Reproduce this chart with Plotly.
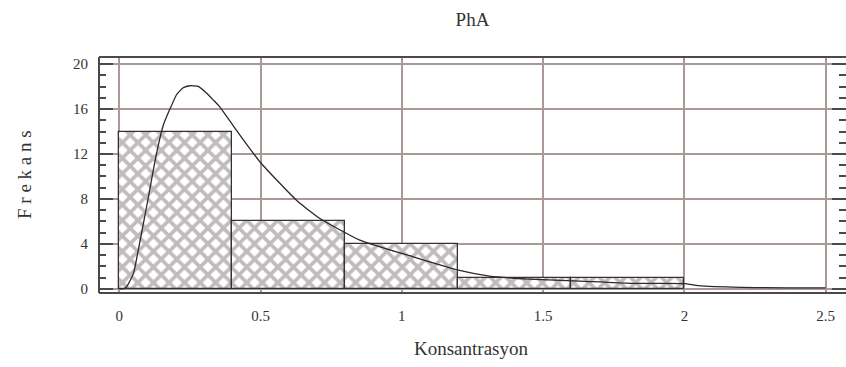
import plotly.graph_objects as go

# Histogram bins (Konsantrasyon) and frequencies
bin_left = [0.0, 0.4, 0.8, 1.2, 1.6]
bin_width = 0.4
freq = [14, 6, 4, 1, 1]

# Fitted density curve
curve_x = [0.0, 0.015, 0.026, 0.05, 0.067, 0.085, 0.103, 0.12, 0.138, 0.156, 0.179, 0.203,
           0.226, 0.25, 0.279, 0.309, 0.333, 0.356, 0.415, 0.498, 0.627, 0.71, 0.851, 1.04,
           1.2, 1.31, 1.45, 1.63, 1.81, 2.0, 2.05, 2.2, 2.5]
curve_y = [0.0, 0.0, 0.18, 1.37, 3.44, 5.8, 8.18, 10.55, 12.8, 14.6, 16.0, 17.3,
           17.9, 18.08, 18.02, 17.42, 16.8, 16.18, 14.1, 11.29, 7.88, 6.26, 4.33, 2.84,
           1.66, 1.13, 0.86, 0.68, 0.48, 0.46, 0.27, 0.12, 0.08]

x_ticks = [0, 0.5, 1, 1.5, 2, 2.5]
x_tick_labels = ["0", "0.5", "1", "1.5", "2", "2.5"]
y_ticks = [0, 4, 8, 12, 16, 20]
y_tick_labels = ["0", "4", "8", "12", "16", "20"]

title_text = "PhA"
x_title = "Konsantrasyon"
y_title = "F r e k a n s"

FONT = "Liberation Serif"
GRID = "#a99a98"
FRAME = "#4a4a4a"
HATCH = "#85777a"

fig = go.Figure()
fig.add_trace(go.Bar(
    x=[b + bin_width / 2 for b in bin_left],
    y=freq,
    width=[bin_width] * len(freq),
    marker=dict(
        color="white",
        line=dict(color="#333333", width=1.3),
        pattern=dict(shape="x", fgcolor=HATCH, bgcolor="white", size=11,
                     solidity=0.55, fillmode="overlay"),
    ),
    showlegend=False,
))
fig.add_trace(go.Scatter(
    x=curve_x, y=curve_y, mode="lines",
    line=dict(color="#2a2a2a", width=1.3, shape="spline", smoothing=0.5),
    showlegend=False,
))

fig.update_layout(
    width=846, height=367,
    margin=dict(l=99, r=0, t=57, b=74),
    paper_bgcolor="white", plot_bgcolor="white",
    font=dict(family=FONT, color="#333333"),
    bargap=0,
    title=dict(text=title_text, x=0.5585, xanchor="center", y=1 - 19 / 367,
               yanchor="middle", font=dict(size=19, family=FONT, color="#333333")),
)
fig.update_xaxes(
    range=[-0.072, 2.572],
    tickmode="array", tickvals=x_ticks, ticktext=x_tick_labels,
    showgrid=True, gridcolor=GRID, gridwidth=1.5,
    zeroline=False, showline=False, ticks="",
    ticklabelstandoff=12,
    tickfont=dict(size=15, family=FONT, color="#333333"),
)
fig.update_yaxes(
    range=[-0.38, 20.64],
    tickmode="array", tickvals=y_ticks, ticktext=y_tick_labels,
    showgrid=True, gridcolor=GRID, gridwidth=1.5,
    zeroline=False, showline=False,
    ticks="inside", ticklen=14, tickwidth=2, tickcolor=FRAME,
    mirror="ticks",
    minor=dict(tickmode="linear", tick0=0, dtick=1, ticks="inside", ticklen=7,
               tickwidth=2, tickcolor=FRAME, showgrid=False),
    ticklabelstandoff=10,
    tickfont=dict(size=15, family=FONT, color="#333333"),
)

# Frame (left, top, bottom)
for x0, y0, x1, y1 in [(0, 0, 0, 1), (0, 1, 1, 1), (0, 0, 1, 0)]:
    fig.add_shape(type="line", xref="paper", yref="paper", x0=x0, y0=y0, x1=x1, y1=y1,
                  line=dict(color=FRAME, width=2))

fig.add_annotation(text=x_title, xref="paper", yref="paper", x=0.4975, y=-(348 - 293) / 236,
                   xanchor="center", yanchor="middle", showarrow=False,
                   font=dict(size=19, family=FONT, color="#333333"))
fig.add_annotation(text=y_title, xref="paper", yref="paper", x=-(99 - 24) / 747, y=0.5,
                   xanchor="center", yanchor="middle", showarrow=False, textangle=-90,
                   font=dict(size=19, family=FONT, color="#333333"))

fig.write_html("out.html")
